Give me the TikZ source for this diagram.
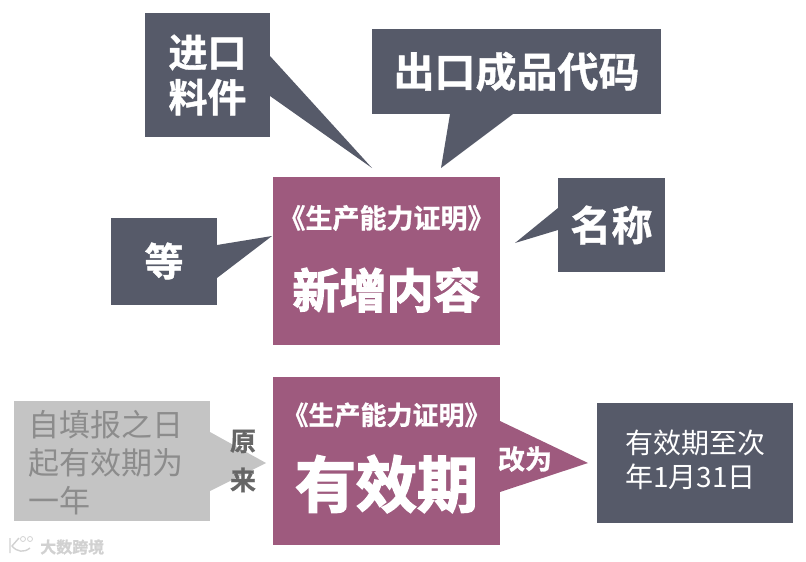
\documentclass[tikz,border=0pt]{standalone}
\usepackage{fontspec}
\usepackage{xcolor}
\usetikzlibrary{positioning,calc}
\setmainfont{Noto Sans CJK SC}
\newfontfamily\cjkheavy[FakeBold=2.5]{Noto Sans CJK SC Bold}
\newfontfamily\cjkbold[FakeBold=1]{Noto Sans CJK SC Bold}
\newfontfamily\cjklight{Noto Sans CJK SC}
\definecolor{slatebox}{HTML}{565A69}
\definecolor{plumbox}{HTML}{9E5A7E}
\definecolor{greybox}{HTML}{C4C4C4}
\newcommand{\zh}[1]{\fontsize{#1}{#1}\selectfont}

\begin{document}
\begin{tikzpicture}[
    x=1pt, y=1pt,
    slate/.style={
        fill=slatebox,
        text=white,
        align=center,
        inner sep=0pt,
        outer sep=0pt,
        font=\cjkbold
    },
    plum/.style={
        fill=plumbox,
        minimum width=227pt,
        minimum height=168pt,
        inner sep=0pt,
        outer sep=0pt
    },
    plain/.style={
        fill=greybox,
        inner sep=0pt,
        outer sep=0pt,
        minimum width=196pt,
        minimum height=120pt
    },
    whitetext/.style={text=white, inner sep=0pt}
]
\useasboundingbox (0,0) rectangle (806,-562);

\node[plum] (newitems) at (386.5,-261) {};
\node[plum, below=32pt of newitems] (validity) {};

\node[slate, minimum width=125pt, minimum height=124pt, above left=40pt and 3pt of newitems, font=\cjkbold\zh{39}] (importbox) {进口\\[6pt]料件};
\node[slate, minimum width=289pt, minimum height=85pt, above=63pt of newitems, xshift=130pt, font=\cjkbold\zh{41}] (exportbox) {出口成品代码};
\node[slate, minimum width=106pt, minimum height=87pt, left=56pt of newitems, font=\cjkbold\zh{39}] (etcbox) {等};
\node[slate, minimum width=107pt, minimum height=94pt, right=58pt of newitems, yshift=36pt, font=\cjkbold\zh{41}] (namebox) {名称};

\node[plain, left=63pt of validity] (oldbox) {};
\node[slate, minimum width=196pt, minimum height=120pt, right=97pt of validity, yshift=-2pt] (newbox) {};

\coordinate (importtip) at ([xshift=-14.5pt,yshift=9pt]newitems.north);
\coordinate (exporttip) at ([xshift=54.5pt,yshift=9pt]newitems.north);
\coordinate (etctip) at ([xshift=-1pt,yshift=25pt]newitems.west);
\coordinate (nametip) at ([xshift=15pt,yshift=18pt]newitems.east);
\coordinate (oldtip) at ([xshift=-7pt,yshift=-2pt]validity.west);
\coordinate (newtip) at ([xshift=-9pt]newbox.west);

\fill[slatebox] ([yshift=19pt]importbox.east) -- (importtip) -- ([yshift=-21pt]importbox.east) -- cycle;
\fill[slatebox] ([xshift=-66.5pt]exportbox.south) -- (exporttip) -- ([xshift=-3.5pt]exportbox.south) -- cycle;
\fill[slatebox] ([yshift=16pt]etcbox.east) -- (etctip) -- ([yshift=-17pt]etcbox.east) -- cycle;
\fill[slatebox] ([yshift=17pt]namebox.west) -- (nametip) -- ([yshift=-5pt]namebox.west) -- cycle;
\fill[greybox] ([yshift=29pt]oldbox.east) -- (oldtip) -- ([yshift=-30pt]oldbox.east) -- cycle;
\fill[plumbox] ([yshift=40pt]validity.east) -- (newtip) -- ([yshift=-31pt]validity.east) -- cycle;

% texts on the two plum boxes
\node[whitetext, font=\cjkbold\zh{27}] (newtitle) at ([yshift=43pt]newitems.center) {《生产能力证明》};
\node[whitetext, font=\cjkheavy\zh{47}] (newlabel) at ([yshift=-29pt]newitems.center) {新增内容};
\node[whitetext, font=\cjkbold\zh{26}] (validtitle) at ([yshift=46pt]validity.center) {《生产能力证明》};
\node[whitetext, font=\cjkheavy\zh{61}] (validlabel) at ([yshift=-23pt]validity.center) {有效期};

\node[whitetext, font=\cjkbold\zh{27}] (changelabel) at ([xshift=25pt,yshift=2pt]validity.east) {改为};
\node[text=black!60, align=center, inner sep=0pt, font=\cjkbold\zh{26}] (oldlabel) at ([xshift=33pt,yshift=0pt]oldbox.east) {原\\[13pt]来};

\node[text=black!45, align=left, inner sep=0pt, font=\cjklight\zh{31}, anchor=north west] (oldtext) at ([xshift=14pt,yshift=-9pt]oldbox.north west) {自填报之日\\[7pt]起有效期为\\[7pt]一年};
\node[whitetext, align=left, font=\cjklight\zh{28}, anchor=north west] (newtext) at ([xshift=28pt,yshift=-27pt]newbox.north west) {有效期至次\\[6pt]年1月31日};

% watermark
\draw[black!18, line width=1.4pt] (10,-538) -- (10,-553) (19,-538) -- (12,-546) .. controls (17,-552) and (24,-553) .. (30,-548);
\draw[black!18, line width=.8pt] (23,-539) circle (2.5pt) (30,-539) circle (2.5pt);
\node[text=black!18, inner sep=0pt, font=\cjkbold\zh{16}, anchor=west] (mark) at (40,-547) {大数跨境};
\end{tikzpicture}
\end{document}
